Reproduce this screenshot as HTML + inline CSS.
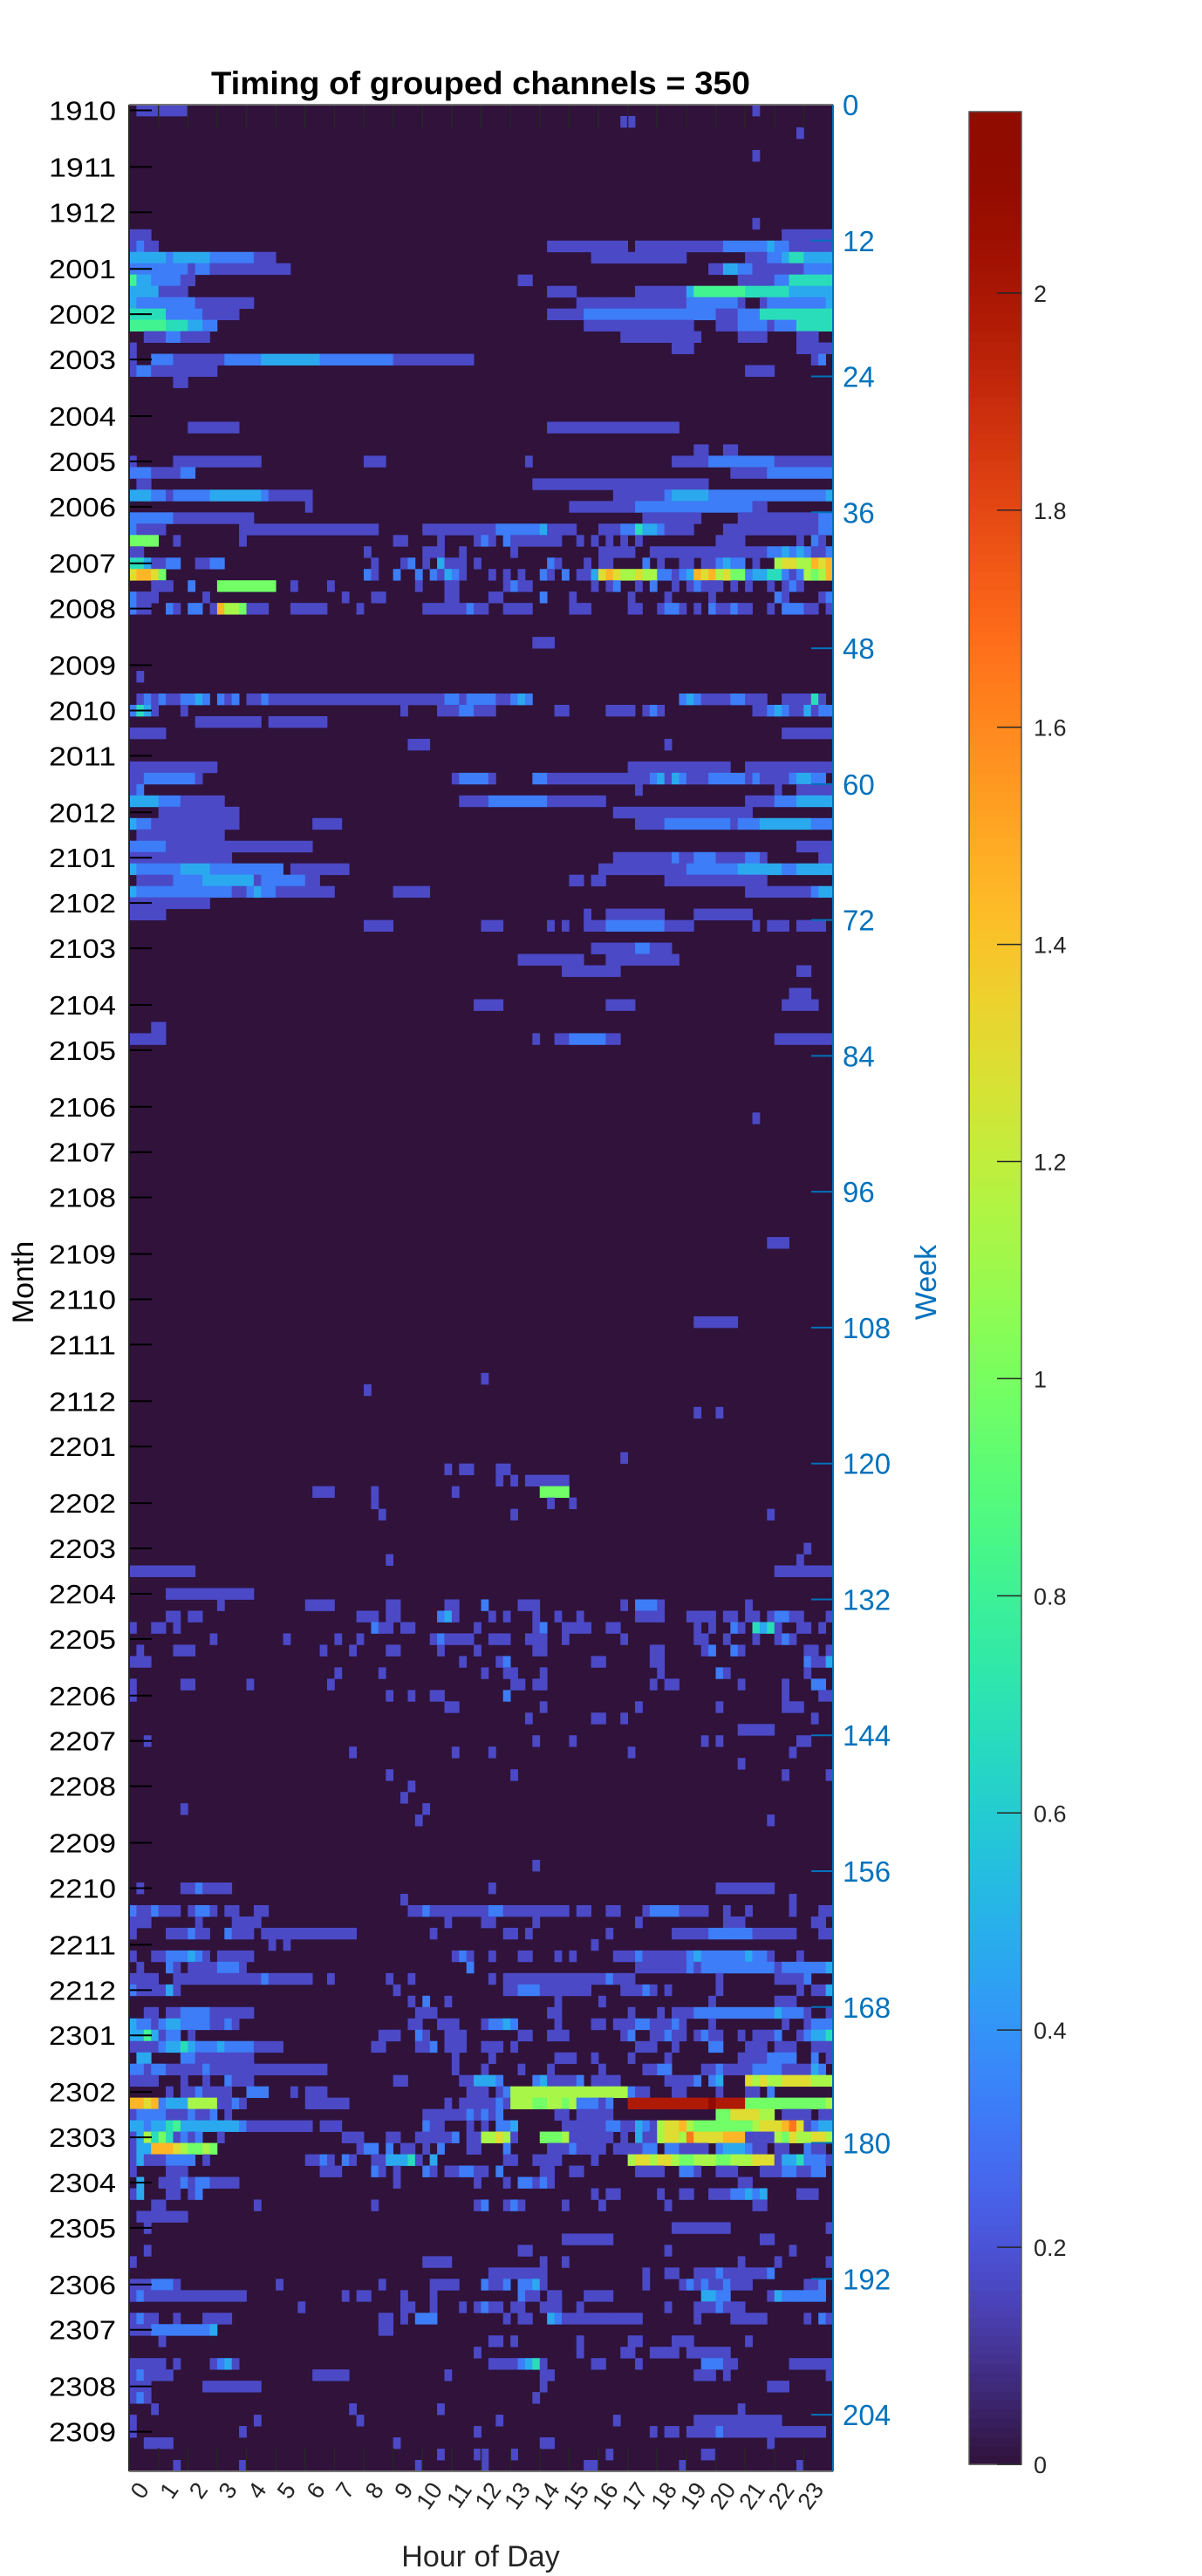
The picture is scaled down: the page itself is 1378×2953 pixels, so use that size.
<!DOCTYPE html>
<html><head><meta charset="utf-8"><title>Timing of grouped channels = 350</title>
<style>html,body{margin:0;padding:0;background:#fff;}svg{display:block;font-family:"Liberation Sans",Arial,sans-serif;}</style>
</head><body>
<svg id="chart" xmlns="http://www.w3.org/2000/svg" width="1378" height="2953" viewBox="0 0 1378 2953">
<rect x="0" y="0" width="1378" height="2953" fill="#ffffff"/>
<text x="551" y="108" text-anchor="middle" font-size="37" font-weight="bold" fill="#000" textLength="618" lengthAdjust="spacingAndGlyphs">Timing of grouped channels = 350</text>
<g id="plot"></g>
<g id="axes"></g>
<g id="cbar"></g>
<text transform="translate(38,1470) rotate(-90)" text-anchor="middle" font-size="34" fill="#000">Month</text>
<text transform="translate(1073,1470) rotate(-90)" text-anchor="middle" font-size="34" fill="#0072BD">Week</text>
<text x="551" y="2942" text-anchor="middle" font-size="34" fill="#262626">Hour of Day</text>
</svg>
<script>
const monthLabels=["1910","1911","1912","2001","2002","2003","2004","2005","2006","2007","2008","2009","2010","2011","2012","2101","2102","2103","2104","2105","2106","2107","2108","2109","2110","2111","2112","2201","2202","2203","2204","2205","2206","2207","2208","2209","2210","2211","2212","2301","2302","2303","2304","2305","2306","2307","2308","2309"];
const monthWeeks=[0.5,5.5,9.5,14.5,18.5,22.5,27.5,31.5,35.5,40.5,44.5,49.5,53.5,57.5,62.5,66.5,70.5,74.5,79.5,83.5,88.5,92.5,96.5,101.5,105.5,109.5,114.5,118.5,123.5,127.5,131.5,135.5,140.5,144.5,148.5,153.5,157.5,162.5,166.5,170.5,175.5,179.5,183.5,187.5,192.5,196.5,201.5,205.5];
const weekTicks=[0,12,24,36,48,60,72,84,96,108,120,132,144,156,168,180,192,204];
const hourLabels=["0","1","2","3","4","5","6","7","8","9","10","11","12","13","14","15","16","17","18","19","20","21","22","23"];
const cbTicks=[0,0.2,0.4,0.6,0.8,1,1.2,1.4,1.6,1.8,2];
const cbTickLabels=["0","0.2","0.4","0.6","0.8","1","1.2","1.4","1.6","1.8","2"];
const levelKeys=["2","3","5","7","9","a","c","d","f","h","k","l"];
const levelValues=[0.17,0.33,0.47,0.68,0.82,0.98,1.13,1.3,1.45,1.65,1.98,2.12];
const cells=[
"0|1-8:2,85:2","1|67-69:2","2|91-92:2","4|85:2","10|85:2","11|0-3:2,89-96:2",
"12|0-4:2,1:3,57-68:2,69-81:2,81-87:3,87-88:5,88-90:3,90-96:2",
"13|0-5:5,5:3,6-11:5,11-17:3,17-20:2,63-76:2,84:2,85-87:2,87-89:3,89-90:5,90-92:7,92-96:5",
"14|0-8:3,8:2,9-11:3,11-22:2,79-81:2,81-83:5,83-85:3,85-92:2,92-96:3",
"15|0:9,1-3:5,3-7:3,7-9:2,53-55:2,83-88:2,88-90:3,90-96:7",
"16|0-4:5,4-8:2,57-61:2,69-76:2,76-77:5,77-84:9,84-85:7,85-90:7,90-96:5",
"17|0:5,1-9:3,9-17:2,61-65:2,65-76:2,76-83:3,83-84:2,86:2,87-89:3,89-95:3,95:5",
"18|0-5:7,5-10:3,10-15:2,57-62:2,62-80:3,80-83:2,83-86:3,86-96:7",
"19|0-5:9,5-8:7,8-10:5,10-12:3,62-77:2,80-83:2,83-87:3,87:2,88-91:3,91-96:7",
"20|2-5:2,5-7:3,7-11:2,67-78:2,83-87:2,91-94:2",
"21|0:2,74-77:2,91-96:2",
"22|0:2,3-6:3,6-13:2,13-18:3,18-26:5,26-36:3,36-47:2,93:2,94-95:3",
"23|0:2,1-3:3,3-12:2,84-88:2",
"24|6-8:2",
"28|8-15:2,57-75:2",
"30|77-79:2,81-83:2",
"31|0:2,6-18:2,32-35:2,54:2,74-79:2,79-88:3,88-96:2",
"32|0-3:3,3-7:2,7-9:3,82-87:2,87-96:3",
"33|1-3:2,55-65:2,65-79:2",
"34|0-3:5,3-5:3,5-6:2,6-11:3,11-18:5,18-19:3,19-25:2,66-73:2,73-74:3,74-79:5,79-95:3,95-96:5",
"35|24-25:2,60-69:2,69-85:3,85-87:2",
"36|0-6:3,6-17:2,70-78:2,83-94:2,94-96:3",
"37|0:3,1-5:2,15-34:2,40-50:2,50-56:3,56:5,57-61:2,64-67:2,67-69:3,69-70:7,70-72:5,72-73:3,73-77:2,81-94:2,94-96:3",
"38|0-4:a,6:2,15:2,36:2,37:2,42:2,47:2,48:3,49:2,51:3,52-59:2,61:2,63:2,65:2,67:2,69-70:2,80-84:2,91-92:2,93:3,94-95:2",
"39|0:2,1-2:2,32:2,40-43:2,45:2,52-53:2,64-69:2,71-87:2,87-89:3,89:5,90:3,91:5,92:3,93-95:2,95:3",
"40|0-2:7,2-3:5,3-5:2,5-7:3,9-11:2,11-13:3,33:2,37:2,38:3,40-41:2,42-43:5,43-46:2,47:2,57:3,58-59:2,62:2,64-66:2,70-71:3,72:2,75-77:2,78-80:2,80:3,81:5,82:3,83-84:3,85-86:2,88-89:c,89-91:d,91-93:c,93:f,94-95:d,95:f",
"41|0:d,1-3:f,3:d,4:a,32:3,33-34:2,36:3,39:3,41-42:3,42:2,43:5,44-45:3,45-46:2,49:2,51:2,53:2,56:3,57-58:2,59-60:3,61-63:2,63:5,64:d,65:f,66:d,67-69:c,69:d,70-72:c,72-74:3,74:2,75:3,76:5,77:f,78:d,79:f,80:c,81:d,82-84:a,84-85:3,85-87:5,87-89:7,89:3,90-91:2,91-92:3,92:c,93:a,94:c,95:f",
"42|3-5:2,5-6:2,8:3,12-20:a,22-23:2,27:2,39:2,43:2,44-45:2,51:2,52-53:3,53-55:2,63-64:2,65:2,66:3,69-70:2,71-72:3,74-75:2,76:2,77-78:3,78-81:2,82-83:2,84:2,87-88:2,89:2,90:3,91-92:2",
"43|0-1:3,1-3:2,3-4:2,10:2,29:2,33-35:2,43:2,44:2,49-51:2,56:3,60-61:2,68:2,73:2,79:2,88:3,89-90:2,94:2,95:3",
"44|0:3,1-3:2,5:3,6:2,8-10:3,11:2,12:f,13-15:c,15:a,16-19:2,22-27:2,31:2,40-46:2,46:3,47-49:2,51-55:2,60-63:2,68:2,69:2,72-73:2,73-75:3,75:2,77:2,79:3,80-82:2,82:3,83-85:2,87:2,89:3,90:3,91:3,92:2,93:2,95:2",
"47|55-58:2","50|1:2",
"52|1:2,2-3:3,3-4:2,4:3,5-7:2,7:3,8:3,9:5,10-11:3,12:3,13:2,14:3,16:2,17-18:2,18:3,19-43:2,43-45:3,45:2,46-50:3,50-52:2,52-53:3,53:5,54:3,75-76:3,76:5,77-78:3,78-82:2,82:3,83:3,84-87:2,89:2,90-93:2,93-94:7,94:2",
"53|0-1:3,1:7,2-3:5,3-4:2,7:2,37:2,42:2,43-45:2,45-47:3,47-50:2,58-60:2,65-69:2,70:2,71:3,72:2,85:2,86-87:2,87:3,88:5,89:3,90-92:2,92:5,93-94:2,94-96:3",
"54|9-18:2,19-27:2","55|0-5:2,89-96:2","56|38-41:2,73:2",
"58|0-12:2,68-82:2,84-96:2",
"59|0-2:2,2-9:3,9:2,44:2,45-49:3,49-50:2,55-57:3,57-71:2,71:3,72:5,73:2,74:5,75-76:3,76-79:2,79-84:3,84:2,85-86:3,86-90:2,90:3,91-93:5,93-95:3",
"60|0:2,1:3,69:2,88-89:2,91-96:2",
"61|0-4:5,4-7:3,7-13:2,45-49:2,49-57:3,57-65:2,84-88:2,88-91:3,91-96:5",
"62|4-15:2,66-85:2",
"63|0:5,1-3:3,3-15:2,25-29:2,69-73:2,73-82:3,82:2,83-86:3,86-93:5,93-96:3",
"64|1-13:2","65|0-5:3,5-25:2,91-96:2",
"66|0-14:2,66-74:2,74-75:3,75-77:2,77-80:3,80-84:2,84-86:3,86-87:2,94-96:2",
"67|0:5,1-7:3,7-11:5,11-21:3,22-30:2,64-76:2,76-83:3,83-89:5,89-91:3,91-96:5",
"68|1-6:2,6-10:3,10:5,11-17:5,17:2,18-24:3,24-26:2,60-62:2,63-65:2,73-87:2",
"69|0:5,1-14:3,14-16:2,16-17:3,17-18:5,18-20:3,20-28:2,36-41:2,84-93:2,93:3,94-96:5",
"70|0-11:2","71|0-5:2,62-63:2,65-73:2,77-85:2",
"72|32-36:2,48-51:2,57:2,59-60:2,62-65:2,65-73:3,73-77:2,85:2,87-90:2,91-95:2",
"74|63-69:2,69-71:3,71-74:2","75|53-62:2,65-75:2","76|59-67:2,91-93:2","78|90-93:2",
"79|47-51:2,65-69:2,89-94:2","81|3-5:2",
"82|0-5:2,55:2,58-60:2,60-65:3,65-67:2,88-96:2",
"89|85:2","100|87-90:2","107|77-83:2","112|48:2","113|32:2","115|77-78:2,80:2","119|67:2",
"120|43-44:2,45-47:2,50-52:2","121|50:2,52:2,54-60:2","122|25-28:2,33:2,44:2,56-60:a",
"123|33:2,57:2,60:2","124|34:2,52:2,87:2","127|92-93:2","128|35-36:2,91:2","129|0-9:2,88-96:2",
"131|5-17:2",
"132|12:2,24-28:2,35-37:2,43-45:2,48-49:3,53-56:2,67:2,69-72:3,72:2,84:2",
"133|5-7:2,8-10:2,31-34:2,35-37:2,42:3,43:5,44-45:2,49:2,51:2,55:2,58-59:2,61:2,69-73:2,76-80:2,81-83:2,84-86:2,87-88:2,88-90:3,90-92:2,95-96:2",
"134|0:2,3-5:2,6-7:2,33:3,34:2,35-36:2,37-39:2,47:2,55:2,56:3,59-63:2,65-67:2,77:2,79:2,82:3,83:2,85:7,86:5,87:7,88:2,91-93:2,94-95:2",
"135|11:2,21:2,28:2,31:2,41:2,42:3,43:2,44:2,45-47:2,49-51:2,51:2,54-57:2,59-60:2,67:2,77-79:2,81-82:2,85-86:2,88:2,89:3,90:2",
"136|1:2,6-9:2,26:2,30-31:2,35:2,36:2,42:2,47:2,55-57:2,71:2,72-73:2,78:2,79:3,82:3,83-84:2,92-94:2,95:2",
"137|0-3:2,45-46:2,50:2,51:3,63:2,64:2,71:2,72-73:2,92:3,93-95:2,95:5",
"138|28:2,34:2,48:2,51-53:2,56:2,72-73:2,80:3,81:2,92:2",
"139|0-1:2,7-9:2,16:2,27:2,52-54:2,55:2,56:2,71-72:2,73-75:2,83-84:2,89-90:2,93-95:3",
"140|0:2,35-36:2,38-39:2,41-43:2,51:3,89-90:2,94-96:2",
"141|43-45:2,56-57:2,69-70:2,80:2,89-92:2","142|54:2,63-65:2,67-68:2,93-94:2","143|83-88:2",
"144|2:2,55:2,60-61:2,78:2,80:2,91-93:2","145|30:2,44:2,49:2,68:2,90:2","146|83:2",
"147|35:2,52:2,89:2,95:2","148|38:2","149|37-38:2","150|7:2,40:2","151|39:2,87-88:2","155|55:2",
"157|1-2:2,7-9:2,9-10:3,10-14:2,49:2,80:2,81-88:2","158|37-38:2,90:2",
"159|0-1:3,1-3:2,3-4:3,4-7:2,8:2,9-11:3,11:2,13-15:2,17-19:2,38-40:2,40:3,41-49:2,49-51:3,51-60:2,61-63:2,65-67:2,70:2,71-75:3,75-79:2,81:2,84:2,90-91:2,94-96:2",
"160|0-3:2,9:2,14-18:2,43:2,48-50:2,55:2,69:2,81-84:2,93-95:2",
"161|0:2,5-8:2,8:3,9-11:2,13:3,14-17:2,18-31:2,41:2,51-53:2,54-55:2,65:2,74-79:2,79-85:3,85-87:2,87-91:2,94-96:2",
"162|19-20:2,21-22:2,63:2",
"163|0:2,3-5:2,5-8:3,8-9:5,9-10:3,10:2,12-17:2,44:2,45:3,46:2,49:2,53-55:2,58:2,60:2,66-69:2,69:3,70-76:2,76:3,77:5,78-84:3,84-85:5,85-87:3,87-88:2,91-92:2",
"164|1-2:2,5:3,6-7:2,8-12:2,12-15:3,15-16:2,46:3,69-76:2,76:3,77-78:2,78-88:3,88-89:2,89-95:3,95-96:5",
"165|0:2,1-4:2,6-18:2,18-19:3,19-25:2,27-28:2,35:2,38:2,49:2,51-65:2,65:3,66-67:2,67-69:2,80:2,88-92:2,92:3",
"166|0:3,1-5:2,5:5,6-7:2,36:2,51-53:2,53-56:3,56-63:2,67-70:2,70:3,71:2,73:2,80:2,91:2,93-95:2,95-96:5",
"167|38:2,40:3,43:2,58:2,64:2,79:2,88-91:2",
"168|2-4:2,5-7:2,7-11:3,11-17:2,39-42:2,57-59:2,68-69:2,72-73:2,74-77:2,77-88:3,88:5,89-92:3,92-93:2,95:2",
"169|0:5,1-3:3,3:2,4:3,5-7:5,7-11:3,11:2,12:2,13-14:3,14-15:2,38-40:2,42-45:2,48:2,49-51:3,51:5,52-53:3,58-59:2,63-65:2,66-69:2,69-71:3,71-74:2,74:3,75-76:2,79:2,89:2,92:2,93-96:3",
"170|0-2:5,2-3:9,3-4:5,4:2,5-7:3,8:2,34-37:2,39:3,40:2,43-46:2,53-55:2,57:2,58-60:2,67-68:2,68:3,71-73:2,73:3,74-75:2,75:2,77:2,78:3,79-81:2,83-84:2,85-88:2,88:3,91:2,92-93:3,93-95:5,95:7",
"171|0-4:2,4-5:3,5-7:5,7:7,8:5,9-12:3,12:5,13-15:3,15-17:3,17-21:2,33-35:2,39:2,40-41:2,41-42:3,43-45:2,45-46:2,48-51:2,52:2,69-72:2,74:2,79:3,80:3,84-87:2,88-91:2,93-96:2",
"172|1-3:5,7-9:3,9-17:2,44-45:2,49-50:2,58-61:2,63-64:2,68:2,73:2,83-87:2,87-91:3,93-94:3,95-96:2",
"173|0-2:3,2:2,3:3,4:3,5-10:2,10-11:3,11-26:2,26-27:2,44-45:2,48-49:2,53-54:2,57-58:2,64:2,70-72:2,72-74:3,78-80:2,80:3,81:2,82-85:2,85-89:3,89-93:2,93-94:5,94-95:3",
"174|0:2,1-4:2,7:2,10:2,13:3,14-17:2,36-38:2,45-47:2,47-50:5,50-51:3,55-56:3,56:5,57-61:2,61:3,63-65:2,65-67:2,73:2,74-77:2,77:3,79-80:3,80:5,84:d,85-86:c,86-87:d,87-89:c,89-93:d,93-96:c",
"175|5-6:2,7-9:2,9-10:3,10-14:2,16-19:3,22-23:2,24-27:2,46-48:2,48-49:2,50-51:2,51:3,52-68:c,68:3,69-71:2,74-76:2,80:2,84:2,85:2,87:3",
"176|0-2:f,2:d,3:f,4:3,5-8:5,8-12:c,12-14:2,14-15:3,15:2,24-30:2,43:2,45-50:2,50:3,51:2,52-55:c,55-57:a,57-59:c,59:a,60:c,61-64:3,64:2,65-66:3,68-79:k,79:l,80-84:k,84-95:a,95:c",
"177|0:2,1-5:3,5-8:2,8:3,9-11:2,11-12:3,13:2,40-46:2,46:3,47:2,48:3,49:2,50-51:3,58:2,59-60:2,61-64:2,64-66:2,80-82:a,82-86:d,86:c,87:c,89-93:2,94-96:2",
"178|0-2:5,2:3,3:5,4:5,5:7,6:9,7-15:5,15-16:3,16-25:2,26-29:2,40-41:3,41-43:2,46-47:2,48-49:2,50-52:3,52:5,59-65:2,65-67:3,67-69:2,69:5,70:3,71-72:2,72-73:c,73-75:d,75:f,76-77:c,77-85:a,85-86:c,86-89:d,89:f,90:h,91:d,92:2,93-94:3,94-96:5",
"179|0:2,1:5,2:c,3:7,4:a,5:7,6:2,7:3,8-9:2,9-10:3,12-13:2,29-32:2,35-37:2,39:2,40-44:2,44:3,46-48:2,48-50:c,50:d,51:c,52:2,56-59:a,59:c,60:2,61-66:2,67-68:2,69:5,70-72:2,72-73:c,73-75:d,75:c,76:h,77-81:d,81-84:f,84:2,85-88:2,88-89:c,89:a,90:d,91-93:c,93-95:d,95:c",
"180|0:2,1-3:5,3-4:f,4-6:f,6:d,7-8:c,8-10:a,10:c,11-12:a,31:2,32:3,33-34:3,35-36:3,37-39:2,40:2,42:3,46-48:2,51-52:3,57-60:2,60-61:3,61-65:2,66-70:2,70-72:3,73-75:3,75-79:2,80-81:3,81-84:5,84-85:3,85-87:2,88-90:2,92:3,93-95:2",
"181|0:2,1:5,2-5:2,5-9:3,10-11:2,24-26:2,26-27:3,27-28:2,29-30:3,30-31:2,33-35:2,35-38:5,38-39:7,39:2,41:5,51-53:2,55-59:2,63:2,68-69:c,69-71:d,71-72:c,72-74:d,74-75:c,75-77:a,77-80:c,80-82:a,82-85:c,85-88:d,88:2,89-91:5,91:7,92-95:3,95:2",
"182|0-1:2,5-8:2,26-29:2,33:3,34-35:2,36-37:2,40:3,41-42:2,43-45:2,45-47:3,47-49:2,50:3,56-58:2,60-62:2,69-73:2,75:3,76:3,77:2,80-83:2,86-89:2,89-91:3,91-93:2,93-95:3",
"183|1-2:5,4-7:2,7-8:3,8-9:2,9-11:3,11-15:2,36:2,47-48:2,51:2,53-55:3,55:2,56:3,57:2,83-85:2",
"184|0:2,1-2:5,5-7:2,8-9:2,9-10:3,63:2,65-67:2,72-73:2,75-77:2,79-82:2,82-84:3,84:5,85:3,86:5,91-94:2",
"185|3-5:2,17-18:2,33-34:2,47:2,48-49:3,51:2,52:3,53-54:2,59-60:2,64:2,73-74:2,85-87:2",
"186|1-8:2","187|2:2,74-82:2,95-96:2","188|59-66:2,86-88:2","189|2-3:2,53-55:2,73-74:2,90:2",
"190|0:2,40-44:2,56-57:2,59-60:2,83:2,88-89:2,95:2",
"191|49-51:2,51-57:2,70-71:2,73-75:2,77-80:2,80-81:3,81-87:2,87:3",
"192|0-3:2,3-6:3,6-7:2,20-21:2,34:2,41-45:2,48-49:3,49-51:2,51-52:3,53-55:3,55-56:5,56-57:2,70-71:2,75:2,76:3,77-78:2,78-79:3,79-81:2,81-82:3,82-85:2,92-94:2,94-95:3",
"193|0-1:2,1-2:3,2-16:2,29:2,31-33:2,37:2,41:2,53-54:3,54-56:2,57-59:2,62-66:2,78-80:5,80-82:3,87-88:2,88:5,89-91:3,91-95:3",
"194|23-24:2,37-39:2,41:2,45-46:2,47-48:2,48-49:3,49-51:2,52-54:2,56-59:2,61:2,73:2,77-80:2,80:3,81-84:2",
"195|0-1:2,1-2:3,2-4:2,6-7:2,10-12:2,12-14:2,34-36:2,37-38:2,39-42:3,51-52:2,53-55:2,57-58:5,58-59:3,59-66:2,66-70:2,77-78:2,82-87:2,92-93:2,94:3,95-96:2",
"196|0-3:2,3-11:3,11-12:5,34-36:2",
"197|4:2,49-51:2,52:2,61:2,68-70:2,74-77:2,84-85:2",
"198|47-48:2,61:2,67-69:2,71-75:2,76-82:2",
"199|0-5:2,6:2,11-12:2,12-13:3,13:5,14-15:2,49-53:2,53-54:3,54-55:5,55-56:7,56-57:2,63-65:2,69:2,78-81:3,81-83:2,90-96:2",
"200|0:2,1:3,2-5:2,5:2,25-30:2,43:2,56-58:2,77-80:2,81-82:2,95-96:2",
"201|0-3:2,10-18:2,56:2,87-90:2","202|0:2,1-2:3,2-3:2,55:2","203|3-4:2,30:2,42-43:2,83:2",
"204|0:2,17-18:2,31:2,50:2,66:2,77-89:2",
"205|0:2,15-16:2,47-48:2,71:2,73-75:2,76-80:2,80-81:3,81-87:2,87-95:2",
"206|2-6:2,36-37:2,56-58:2,87-88:2",
"207|42-43:2,47:2,48-49:2,52-53:2,65:2,78-80:2",
"208|6-7:2,15:2,39-40:2,48:2,62-64:2,75-76:2,91-92:2"
];
const NS="http://www.w3.org/2000/svg";
const PX0=148,PX1=955,PY0=120,PY1=2833,NCOL=96,NROW=209;
const VMAX=2.167,CB_X=1111,CB_W=60,CB_Y0=128,CB_Y1=2825;
function xOf(c){return PX0+c*(PX1-PX0)/NCOL;}
function yOf(w){return PY0+w*(PY1-PY0)/NROW;}
function hourX(h){return PX0+h*(PX1-PX0)/24;}
function cbY(v){return CB_Y1-v/VMAX*(CB_Y1-CB_Y0);}
function poly(x){
  const r=0.13572138+x*(4.61539260+x*(-42.66032258+x*(132.13108234+x*(-152.94239396+x*59.28637943))));
  const g=0.09140261+x*(2.19418839+x*(4.84296658+x*(-14.18503333+x*(4.27729857+x*2.82956604))));
  const b=0.10667330+x*(12.64194608+x*(-60.58204836+x*(110.36276771+x*(-89.90310912+x*27.34824973))));
  return [r,g,b];
}
function turbo(v){
  let x=Math.max(0,Math.min(1,v/VMAX));
  let rgb;
  if(x<0.06){const p=poly(0.06),t=x/0.06,z=[48/255,18/255,59/255];rgb=[z[0]+(p[0]-z[0])*t,z[1]+(p[1]-z[1])*t,z[2]+(p[2]-z[2])*t];}
  else rgb=poly(x);
  const c=t=>Math.round(255*Math.max(0,Math.min(1,t)));
  return "rgb("+c(rgb[0])+","+c(rgb[1])+","+c(rgb[2])+")";
}
function mk(tag,attrs,parent){const e=document.createElementNS(NS,tag);for(const k in attrs)e.setAttribute(k,attrs[k]);parent.appendChild(e);return e;}
const plot=document.getElementById("plot");
const bg=mk("rect",{x:PX0,y:PY0,width:PX1-PX0,height:PY1-PY0,fill:turbo(0)},plot);


cells.forEach(function(entry){
  const parts=entry.split("|");const r=+parts[0];
  parts[1].split(",").forEach(function(seg){
    const sp=seg.split(":");const rng=sp[0].split("-");
    const a=+rng[0];let b=rng.length>1?+rng[1]:a+1;if(b<=a)b=a+1;
    const v=levelValues[levelKeys.indexOf(sp[1])];
    const rc=mk("rect",{x:xOf(a).toFixed(2),y:yOf(r).toFixed(2),width:(xOf(b)-xOf(a)+0.4).toFixed(2),height:(yOf(r+1)-yOf(r)+0.4).toFixed(2),fill:turbo(v)},plot);
    
    
  });
});
const axes=document.getElementById("axes");
hourLabels.forEach(function(lab,h){
  const x=hourX(h);
  const t1=mk("line",{x1:x,y1:PY0,x2:x,y2:PY0+27,stroke:"#262626","stroke-width":1.5},axes);
  
  
  const t2=mk("line",{x1:x,y1:PY1,x2:x,y2:PY1-27,stroke:"#262626","stroke-width":1.5},axes);
  
  
  const tx=mk("text",{transform:"translate("+(x+24)+",2854) rotate(-55)","text-anchor":"end","font-size":27,fill:"#262626"},axes);
  tx.textContent=lab;
  
  
});
monthLabels.forEach(function(lab,i){
  const y=yOf(monthWeeks[i]);
  const tk=mk("line",{x1:PX0,y1:y,x2:PX0+26,y2:y,stroke:"#000","stroke-width":2},axes);
  
  
  const tx=mk("text",{x:133,y:y+11,"text-anchor":"end","font-size":31,fill:"#000",textLength:77,lengthAdjust:"spacingAndGlyphs"},axes);
  tx.textContent=lab;
  
  
});
weekTicks.forEach(function(w){
  const y=yOf(w);
  const tk=mk("line",{x1:PX1,y1:y,x2:PX1-25,y2:y,stroke:"#0072BD","stroke-width":2},axes);
  
  
  const tx=mk("text",{x:966,y:y+12,"font-size":33,fill:"#0072BD"},axes);
  tx.textContent=String(w);
  
  
});
const la=mk("line",{x1:PX0,y1:PY0,x2:PX0,y2:PY1,stroke:"#262626","stroke-width":2},axes);


const ta=mk("line",{x1:PX0,y1:PY0,x2:PX1,y2:PY0,stroke:"#777","stroke-width":2},axes);


const ba=mk("line",{x1:PX0,y1:PY1,x2:PX1,y2:PY1,stroke:"#777","stroke-width":2},axes);


const ra=mk("line",{x1:PX1,y1:PY0,x2:PX1,y2:PY1,stroke:"#0072BD","stroke-width":2},axes);


const cbar=document.getElementById("cbar");
const NSTEP=256;
for(let i=0;i<NSTEP;i++){
  const v0=i/NSTEP*VMAX,v1=(i+1)/NSTEP*VMAX;
  const s=mk("rect",{x:CB_X,y:cbY(v1).toFixed(2),width:CB_W,height:(cbY(v0)-cbY(v1)+0.6).toFixed(2),fill:turbo((v0+v1)/2)},cbar);
  
  
}
const cbf=mk("rect",{x:CB_X,y:CB_Y0,width:CB_W,height:CB_Y1-CB_Y0,fill:"none",stroke:"#555","stroke-width":1.5},cbar);


cbTicks.forEach(function(v,i){
  const y=cbY(v);
  const tk=mk("line",{x1:CB_X+CB_W,y1:y,x2:CB_X+CB_W-28,y2:y,stroke:"#262626","stroke-width":1.5},cbar);
  
  
  const tx=mk("text",{x:1185,y:y+10,"font-size":27,fill:"#262626"},cbar);
  tx.textContent=cbTickLabels[i];
  
  
});
</script>
</body></html>
